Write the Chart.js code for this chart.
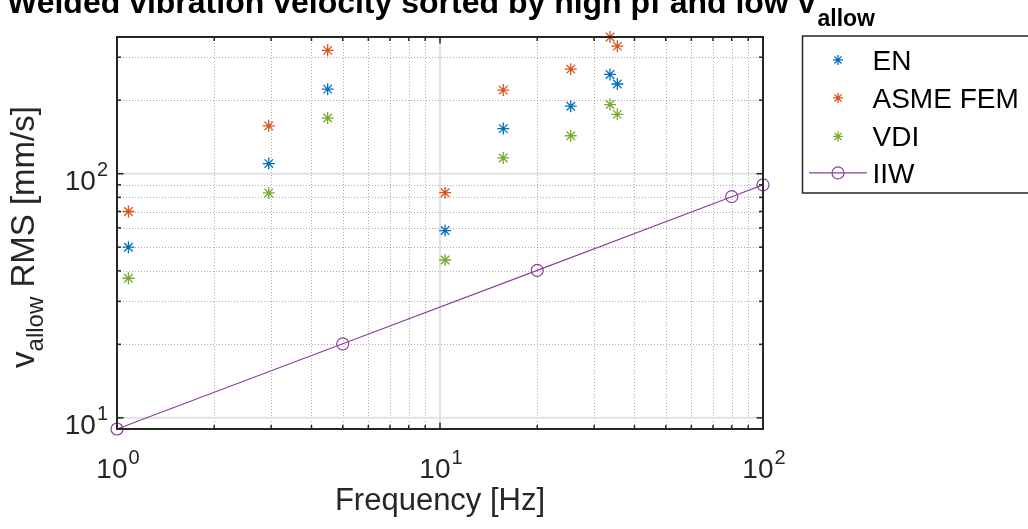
<!DOCTYPE html>
<html>
<head>
<meta charset="utf-8">
<script src="https://cdn.jsdelivr.net/npm/chart.js@4.4.1/dist/chart.umd.min.js"></script>
<style>
  html, body { margin: 0; padding: 0; background: #ffffff; overflow: hidden; }
  canvas { display: block; }
</style>
</head>
<body>
<canvas id="chart" width="1028" height="529"></canvas>
<script>
// Measurement frequencies [Hz] shared by the three standards
const frequencies = [1.085, 2.95, 4.49, 10.37, 15.7, 25.4, 33.6, 35.4];

// Allowed RMS vibration velocity [mm/s] per standard
const enValues   = [50, 110, 222, 58.5, 153, 189, 255, 233];
const asmeValues = [70, 157, 320, 83.6, 220, 268, 363, 333];
const vdiValues  = [37.3, 83.4, 169, 44.3, 116, 143, 192, 175];

// IIW reference curve
const iiwFrequencies = [1, 5, 20, 80, 100];
const iiwValues      = [9, 20.1, 40.2, 80.5, 90];

// Axis ranges and ticks (log-log)
const xRange = [1, 100];
const yRange = [9, 363];
const xMajorTicks = [1, 10, 100];
const xMinorTicks = [2, 3, 4, 5, 6, 7, 8, 9, 20, 30, 40, 50, 60, 70, 80, 90];
const yMajorTicks = [10, 100];
const yMinorTicks = [20, 30, 40, 50, 60, 70, 80, 90, 200, 300];
const xTickExponents = ['0', '1', '2'];
const yTickExponents = ['1', '2'];

const seriesNames = ['EN', 'ASME FEM', 'VDI', 'IIW'];
const seriesColors = ['#0072BD', '#D95319', '#77AC30', '#8E3FA0'];

const FONT = '"Liberation Sans", Arial, Helvetica, sans-serif';
const AXIS_COLOR = '#262626';

function pairs(xs, ys) {
  return xs.map((x, i) => ({ x: x, y: ys[i] }));
}

function starSet(label, values, color) {
  return {
    label: label,
    data: pairs(frequencies, values),
    showLine: false,
    pointStyle: 'star',
    pointRadius: 6,
    pointBorderWidth: 1.3,
    pointBorderColor: color,
    pointBackgroundColor: color,
    borderColor: color,
    clip: false
  };
}

// Draws "10" with a raised exponent
function drawPower(ctx, exp, x, baseline, align, size) {
  const supSize = Math.round(size * 0.72);
  ctx.font = size + 'px ' + FONT;
  const wBase = ctx.measureText('10').width;
  ctx.font = supSize + 'px ' + FONT;
  const wExp = ctx.measureText(exp).width;
  const total = wBase + wExp + 1;
  let start = x;
  if (align === 'center') start = x - total / 2;
  else if (align === 'right') start = x - total;
  ctx.textAlign = 'left';
  ctx.textBaseline = 'alphabetic';
  ctx.font = size + 'px ' + FONT;
  ctx.fillText('10', start, baseline);
  ctx.font = supSize + 'px ' + FONT;
  ctx.fillText(exp, start + wBase + 1, baseline - 14);
}

const axesDecor = {
  id: 'axesDecor',
  beforeDatasetsDraw(chart) {
    const { ctx, chartArea: a, scales: { x, y } } = chart;
    ctx.save();
    // minor grid, dotted
    ctx.strokeStyle = 'rgba(38,38,38,0.38)';
    ctx.lineWidth = 1;
    ctx.setLineDash([1, 2]);
    xMinorTicks.forEach(v => {
      const px = Math.round(x.getPixelForValue(v)) + 0.5;
      ctx.beginPath(); ctx.moveTo(px, a.top); ctx.lineTo(px, a.bottom); ctx.stroke();
    });
    yMinorTicks.forEach(v => {
      const py = Math.round(y.getPixelForValue(v)) + 0.5;
      ctx.beginPath(); ctx.moveTo(a.left, py); ctx.lineTo(a.right, py); ctx.stroke();
    });
    // major grid, solid light
    ctx.setLineDash([]);
    ctx.strokeStyle = '#e2e2e2';
    ctx.lineWidth = 2;
    xMajorTicks.forEach(v => {
      const px = x.getPixelForValue(v);
      ctx.beginPath(); ctx.moveTo(px, a.top); ctx.lineTo(px, a.bottom); ctx.stroke();
    });
    yMajorTicks.forEach(v => {
      const py = y.getPixelForValue(v);
      ctx.beginPath(); ctx.moveTo(a.left, py); ctx.lineTo(a.right, py); ctx.stroke();
    });
    ctx.restore();
  },
  afterDatasetsDraw(chart) {
    const { ctx, chartArea: a, scales: { x, y } } = chart;
    ctx.save();
    ctx.strokeStyle = AXIS_COLOR;
    ctx.lineWidth = 1.5;
    const tick = (len, vals, horiz) => {
      vals.forEach(v => {
        if (horiz) {
          const px = x.getPixelForValue(v);
          ctx.beginPath(); ctx.moveTo(px, a.bottom); ctx.lineTo(px, a.bottom - len); ctx.stroke();
          ctx.beginPath(); ctx.moveTo(px, a.top); ctx.lineTo(px, a.top + len); ctx.stroke();
        } else {
          const py = y.getPixelForValue(v);
          ctx.beginPath(); ctx.moveTo(a.left, py); ctx.lineTo(a.left + len, py); ctx.stroke();
          ctx.beginPath(); ctx.moveTo(a.right, py); ctx.lineTo(a.right - len, py); ctx.stroke();
        }
      });
    };
    tick(6.5, xMajorTicks, true);
    tick(4, xMinorTicks, true);
    tick(6.5, yMajorTicks, false);
    tick(4, yMinorTicks, false);
    // axes box
    ctx.lineWidth = 2;
    ctx.strokeRect(a.left, a.top, a.right - a.left, a.bottom - a.top);

    // tick labels
    ctx.fillStyle = AXIS_COLOR;
    xMajorTicks.forEach((v, i) => {
      drawPower(ctx, xTickExponents[i], x.getPixelForValue(v) + 1, 478, 'center', 28);
    });
    yMajorTicks.forEach((v, i) => {
      drawPower(ctx, yTickExponents[i], 108, y.getPixelForValue(v) + 16, 'right', 28);
    });

    // x axis label
    ctx.font = '31px ' + FONT;
    ctx.textAlign = 'center';
    ctx.textBaseline = 'alphabetic';
    ctx.fillText('Frequency [Hz]', (a.left + a.right) / 2, 510);

    // y axis label with subscript, rotated
    ctx.save();
    ctx.translate(34, 237);
    ctx.rotate(-Math.PI / 2);
    ctx.font = '33px ' + FONT;
    const wv = ctx.measureText('v').width;
    const wr = ctx.measureText(' RMS [mm/s]').width;
    ctx.font = '24px ' + FONT;
    const ws = ctx.measureText('allow').width;
    let sx = -(wv + ws + wr) / 2;
    ctx.textAlign = 'left';
    ctx.font = '33px ' + FONT;
    ctx.fillText('v', sx, 0);
    ctx.font = '24px ' + FONT;
    ctx.fillText('allow', sx + wv, 9);
    ctx.font = '33px ' + FONT;
    ctx.fillText(' RMS [mm/s]', sx + wv + ws, 0);
    ctx.restore();

    // title with subscript
    ctx.fillStyle = '#000000';
    const titleMain = 'Welded vibration velocity sorted by high pf and low v';
    ctx.font = 'bold 32px ' + FONT;
    const wm = ctx.measureText(titleMain).width;
    ctx.font = 'bold 23px ' + FONT;
    const wsub = ctx.measureText('allow').width;
    const tx = (a.left + a.right) / 2 - (wm + wsub) / 2;
    ctx.textAlign = 'left';
    ctx.font = 'bold 32px ' + FONT;
    ctx.fillText(titleMain, tx, 13);
    ctx.font = 'bold 23px ' + FONT;
    ctx.fillText('allow', tx + wm + 2, 26);

    // legend
    const lx = 802.5, ly = 36;
    ctx.fillStyle = '#ffffff';
    ctx.fillRect(lx, ly, 260, 157);
    ctx.strokeStyle = AXIS_COLOR;
    ctx.lineWidth = 1.5;
    ctx.strokeRect(lx, ly, 260, 157);
    const rowBase = [69.5, 107.5, 146, 182.5];
    chart.data.datasets.forEach((ds, i) => {
      const cy = rowBase[i] - 9.6;
      ctx.strokeStyle = seriesColors[i];
      ctx.fillStyle = 'rgba(0,0,0,0)';
      if (ds.showLine) {
        ctx.lineWidth = 1.2;
        ctx.beginPath(); ctx.moveTo(809, cy); ctx.lineTo(867, cy); ctx.stroke();
      }
      ctx.lineWidth = ds.pointBorderWidth;
      Chart.helpers.drawPoint(ctx, {
        pointStyle: ds.pointStyle,
        radius: ds.showLine ? ds.pointRadius : 5,
        rotation: 0,
        borderWidth: ds.pointBorderWidth
      }, 838, cy);
      ctx.fillStyle = '#000000';
      ctx.font = '28px ' + FONT;
      ctx.textAlign = 'left';
      ctx.textBaseline = 'alphabetic';
      ctx.fillText(seriesNames[i], 872.5, rowBase[i]);
    });
    ctx.restore();
  }
};

new Chart(document.getElementById('chart').getContext('2d'), {
  type: 'scatter',
  data: {
    datasets: [
      starSet(seriesNames[0], enValues, seriesColors[0]),
      starSet(seriesNames[1], asmeValues, seriesColors[1]),
      starSet(seriesNames[2], vdiValues, seriesColors[2]),
      {
        label: seriesNames[3],
        data: pairs(iiwFrequencies, iiwValues),
        showLine: true,
        borderColor: seriesColors[3],
        borderWidth: 1.2,
        pointStyle: 'circle',
        pointRadius: 6,
        pointBorderWidth: 1.2,
        pointBorderColor: seriesColors[3],
        pointBackgroundColor: 'rgba(0,0,0,0)',
        backgroundColor: 'rgba(0,0,0,0)',
        fill: false,
        tension: 0,
        clip: false
      }
    ]
  },
  options: {
    responsive: false,
    animation: false,
    events: [],
    layout: { padding: { left: 117, top: 37, right: 265, bottom: 100 } },
    scales: {
      x: { type: 'logarithmic', min: xRange[0], max: xRange[1], display: false },
      y: { type: 'logarithmic', min: yRange[0], max: yRange[1], display: false }
    },
    plugins: {
      legend: { display: false },
      title: { display: false },
      tooltip: { enabled: false }
    }
  },
  plugins: [axesDecor]
});
</script>
</body>
</html>
